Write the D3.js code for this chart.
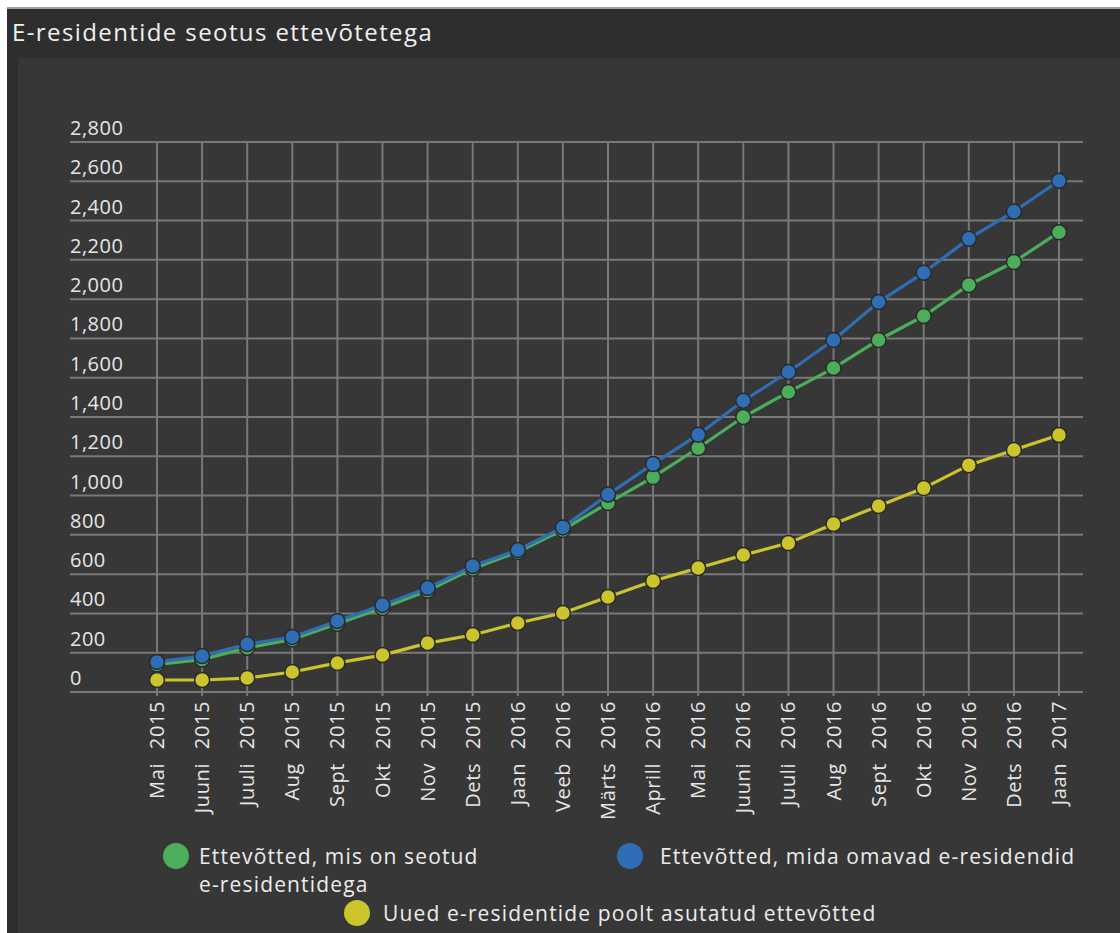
<!DOCTYPE html>
<html><head><meta charset="utf-8">
<script src="https://cdn.jsdelivr.net/npm/d3@7"></script>
<style>
html,body{margin:0;padding:0;background:#ffffff;}
svg{display:block;}
text{font-family:"Open Sans","Noto Sans",sans-serif;}
</style></head>
<body>
<svg id="chart" width="1120" height="933"></svg>
<script>
const title = "E-residentide seotus ettevõtetega";
const months = ["Mai","Juuni","Juuli","Aug","Sept","Okt","Nov","Dets","Jaan","Veeb","Märts","Aprill","Mai","Juuni","Juuli","Aug","Sept","Okt","Nov","Dets","Jaan"];
const years  = ["2015","2015","2015","2015","2015","2015","2015","2015","2016","2016","2016","2016","2016","2016","2016","2016","2016","2016","2016","2016","2017"];
const seriesNames = ["Ettevõtted, mis on seotud e-residentidega","Ettevõtted, mida omavad e-residendid","Uued e-residentide poolt asutatud ettevõtted"];
const linked = [140,165,225,268,348,428,515,628,713,825,962,1094,1242,1400,1527,1649,1792,1914,2072,2189,2341];
const owned  = [153,183,244,280,361,443,529,641,723,838,1005,1161,1310,1483,1629,1792,1985,2135,2308,2446,2603];
const founded= [61,61,71,102,148,188,249,290,351,402,484,565,631,697,758,855,947,1038,1155,1232,1308];
const yTicks = [0,200,400,600,800,1000,1200,1400,1600,1800,2000,2200,2400,2600,2800];
const colors = ["#4cad5b","#2f6db5","#cbc42c"];

const svg = d3.select("#chart");
// backgrounds
svg.append("rect").attr("x",7).attr("y",7).attr("width",1113).attr("height",926).attr("fill","#2e2e2e");
svg.append("rect").attr("x",7).attr("y",7).attr("width",1113).attr("height",2).attr("fill","#9aa3ad");
svg.append("rect").attr("x",18).attr("y",58).attr("width",1102).attr("height",875).attr("fill","#373737");

svg.append("text").attr("x",12).attr("y",41).attr("fill","#f0f0f0")
  .attr("font-size",24).attr("letter-spacing",1.4).text(title);

const idx = months.map((m,i)=>i);
const x = d3.scalePoint().domain(idx).range([157,1059]);
const y = d3.scaleLinear().domain([0,2800]).range([692,142]);

const grid = svg.append("g");
grid.selectAll("line.h").data(yTicks).join("line")
  .attr("x1",70).attr("x2",1083)
  .attr("y1",d=>y(d)).attr("y2",d=>y(d))
  .attr("stroke","#787878").attr("stroke-width",2);
grid.selectAll("line.v").data(idx).join("line")
  .attr("x1",d=>x(d)).attr("x2",d=>x(d))
  .attr("y1",y(2800)).attr("y2",y(0)+4)
  .attr("stroke","#787878").attr("stroke-width",2);

// y labels (drawn above their gridlines, as in the original)
svg.append("g").selectAll("text").data(yTicks).join("text")
  .attr("x",70).attr("y",d=>y(d)-7)
  .attr("fill","#e6e6e6").attr("font-size",20).attr("letter-spacing",0.5)
  .text(d=>d3.format(",")(d));

// x labels
svg.append("g").selectAll("text").data(idx).join("text")
  .attr("transform",d=>`translate(${x(d)+7},701) rotate(-90)`)
  .attr("text-anchor","end")
  .attr("fill","#e6e6e6").attr("font-size",20)
  .attr("letter-spacing",0.6).attr("word-spacing",8)
  .text(d=>months[d]+" "+years[d]);

const data = [linked, owned, founded];
const order = [2,0,1];
const line = d3.line().x((d,i)=>x(i)).y(d=>y(d));
order.forEach(s=>{
  const g = svg.append("g");
  g.append("path").datum(data[s]).attr("d",line)
    .attr("fill","none").attr("stroke",colors[s]).attr("stroke-width",3.2);
  g.selectAll("circle").data(data[s]).join("circle")
    .attr("cx",(d,i)=>x(i)).attr("cy",d=>y(d)).attr("r",7.5)
    .attr("fill",colors[s]).attr("stroke","#2a2a2a").attr("stroke-width",1.5);
});

// legend
const lg = svg.append("g").attr("font-size",21).attr("fill","#ececec").attr("letter-spacing",1.15);
lg.append("circle").attr("cx",176).attr("cy",856).attr("r",13).attr("fill",colors[0]);
lg.append("text").attr("x",199).attr("y",864).text("Ettevõtted, mis on seotud");
lg.append("text").attr("x",199).attr("y",892).text("e-residentidega");
lg.append("circle").attr("cx",630).attr("cy",856).attr("r",13).attr("fill",colors[1]);
lg.append("text").attr("x",660).attr("y",864).text(seriesNames[1]);
lg.append("circle").attr("cx",357).attr("cy",913).attr("r",13).attr("fill",colors[2]);
lg.append("text").attr("x",383).attr("y",921).text(seriesNames[2]);
</script>
</body></html>
